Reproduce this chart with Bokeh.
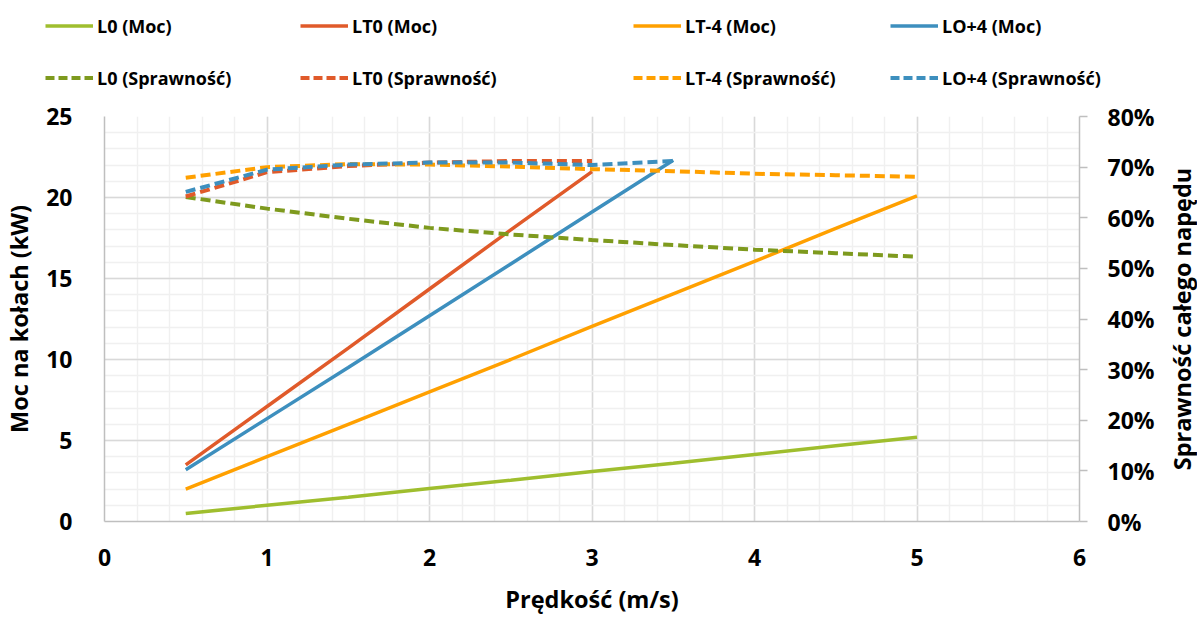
from bokeh.plotting import figure
from bokeh.layouts import row
from bokeh.models import (Range1d, LinearAxis, SingleIntervalTicker, FixedTicker,
                          NumeralTickFormatter, Legend, LegendItem)
from bokeh.embed import file_html
from bokeh.resources import INLINE

# ---------------- data ----------------
v_full = [0.5, 1.0, 1.5, 2.0, 2.5, 3.0, 3.5, 4.0, 4.5, 5.0]
v_lt0 = [0.5, 1.0, 1.5, 2.0, 2.5, 3.0]
v_lo4 = [0.5, 1.0, 1.5, 2.0, 2.5, 3.0, 3.5]

moc_l0 = [0.5, 1.0, 1.5, 2.03, 2.55, 3.08, 3.6, 4.13, 4.67, 5.2]
moc_lt0 = [3.5, 7.1, 10.7, 14.35, 18.0, 21.6]
moc_ltm4 = [2.0, 4.0, 6.0, 8.0, 10.0, 12.05, 14.05, 16.05, 18.1, 20.1]
moc_lo4 = [3.2, 6.35, 9.5, 12.7, 15.9, 19.1, 22.3]

spr_l0 = [0.641, 0.618, 0.598, 0.580, 0.567, 0.556, 0.546, 0.537, 0.530, 0.523]
spr_lt0 = [0.642, 0.690, 0.702, 0.709, 0.712, 0.712]
spr_ltm4 = [0.679, 0.700, 0.706, 0.705, 0.701, 0.696, 0.692, 0.687, 0.684, 0.681]
spr_lo4 = [0.651, 0.695, 0.705, 0.709, 0.709, 0.704, 0.712]

series_names = ["L0", "LT0", "LT-4", "LO+4"]
x_title = "Prędkość (m/s)"
y_title = "Moc na kołach (kW)"
y2_title = "Sprawność całego napędu"

FONT = "Open Sans"
GRID_MAJOR = "#d9d9d9"
GRID_MINOR = "#f0f0f0"
AXIS_COL = "#bfbfbf"

C_L0 = "#9fbe2e"
C_L0D = "#7e9a1e"
C_LT0 = "#e05a2a"
C_LTM4 = "#ffa000"
C_LO4 = "#3d8fbe"
LW = 3.5
DW = 4
DASH = "10 5"

TOTAL_W, TOTAL_H = 1197, 617
LEG_H = 100
RT_W = 35          # strip holding the right axis title
MAIN_W = TOTAL_W - RT_W
MAIN_H = TOTAL_H - LEG_H
B_TOP = 116 - LEG_H
B_BOTTOM = 94

p = figure(width=MAIN_W, height=MAIN_H, output_backend="svg", toolbar_location=None,
           title=None, x_range=Range1d(0, 6), y_range=Range1d(0, 25),
           min_border_left=103, min_border_right=MAIN_W - 1079, min_border_top=B_TOP,
           min_border_bottom=B_BOTTOM)
p.extra_y_ranges = {"eff": Range1d(0, 0.8)}
p.outline_line_color = None

def style_axis(ax, tick_out=0):
    ax.axis_line_color = AXIS_COL
    ax.axis_line_width = 1.5
    ax.major_tick_line_color = AXIS_COL if tick_out else None
    ax.major_tick_line_width = 1.5
    ax.major_tick_out = tick_out
    ax.major_tick_in = 0
    ax.minor_tick_line_color = None
    ax.major_label_text_font = FONT
    ax.major_label_text_font_style = "bold"
    ax.major_label_text_font_size = "23px"
    ax.major_label_text_color = "#000000"
    ax.axis_label_text_font = FONT
    ax.axis_label_text_font_style = "bold"
    ax.axis_label_text_font_size = "23.5px"
    ax.axis_label_text_color = "#000000"

xax = p.xaxis[0]
xax.ticker = SingleIntervalTicker(interval=1, num_minor_ticks=5)
xax.axis_label = x_title
style_axis(xax)
xax.major_label_standoff = 23
xax.axis_label_standoff = 14

yax = p.yaxis[0]
yax.ticker = SingleIntervalTicker(interval=5, num_minor_ticks=5)
yax.axis_label = y_title
style_axis(yax)
yax.major_label_standoff = 28
yax.axis_label_standoff = 8

rax = LinearAxis(y_range_name="eff", ticker=SingleIntervalTicker(interval=0.1),
                 formatter=NumeralTickFormatter(format="0%"))
style_axis(rax, tick_out=8)
rax.major_label_standoff = 20
p.add_layout(rax, "right")

p.xgrid.ticker = SingleIntervalTicker(interval=1, num_minor_ticks=5)
p.ygrid.ticker = SingleIntervalTicker(interval=5, num_minor_ticks=5)
for g in (p.xgrid[0], p.ygrid[0]):
    g.grid_line_color = GRID_MAJOR
    g.grid_line_width = 1.5
    g.minor_grid_line_color = GRID_MINOR
    g.minor_grid_line_width = 1.5

styles_solid = [C_L0, C_LT0, C_LTM4, C_LO4]
styles_dash = [C_L0D, C_LT0, C_LTM4, C_LO4]
xs = [v_full, v_lt0, v_full, v_lo4]
moc = [moc_l0, moc_lt0, moc_ltm4, moc_lo4]
spr = [spr_l0, spr_lt0, spr_ltm4, spr_lo4]

for xv, yv, c in zip(xs, moc, styles_solid):
    p.line(xv, yv, line_color=c, line_width=LW)
for xv, yv, c in zip(xs, spr, styles_dash):
    p.line(xv, yv, line_color=c, line_width=DW, line_dash=DASH, y_range_name="eff")

# ---------------- right axis title strip (reads bottom-to-top like a left axis) ----------------
rf = figure(width=RT_W, height=MAIN_H, output_backend="svg", toolbar_location=None,
            title=None, x_range=Range1d(0, 1), y_range=Range1d(0, 0.8), x_axis_type=None,
            y_axis_type=None, min_border_left=RT_W - 1, min_border_right=0,
            min_border_top=B_TOP, min_border_bottom=B_BOTTOM)
rf.outline_line_color = None
rf.grid.visible = False
tax = LinearAxis(ticker=FixedTicker(ticks=[]), axis_label=y2_title)
style_axis(tax)
tax.axis_line_color = None
tax.major_label_standoff = 0
tax.axis_label_standoff = 0
rf.add_layout(tax, "left")

# ---------------- legend strip ----------------
lf = figure(width=TOTAL_W, height=LEG_H, output_backend="svg", toolbar_location=None,
            title=None, x_range=Range1d(0, 1), y_range=Range1d(0, 1), x_axis_type=None,
            y_axis_type=None, min_border=0, min_border_left=0, min_border_right=0,
            min_border_top=0, min_border_bottom=0)
lf.outline_line_color = None
lf.grid.visible = False

col_x = [45, 300, 633, 890]
for name, cs, cd, xloc in zip(series_names, styles_solid, styles_dash, col_x):
    rs = lf.line([-5, -4], [-5, -5], line_color=cs, line_width=LW)
    rd = lf.line([-5, -4], [-5, -5], line_color=cd, line_width=DW, line_dash="9 4")
    leg = Legend(items=[LegendItem(label=f"{name} (Moc)", renderers=[rs]),
                        LegendItem(label=f"{name} (Sprawność)", renderers=[rd])],
                 location=(xloc, LEG_H - 90), orientation="vertical",
                 glyph_width=48, glyph_height=25, label_height=25, label_standoff=4,
                 spacing=27, padding=0, margin=0,
                 border_line_color=None, background_fill_alpha=0,
                 label_text_font=FONT, label_text_font_style="bold",
                 label_text_font_size="18px", label_text_color="#000000")
    lf.add_layout(leg, "center")

main = row(p, rf, spacing=0)
open("out.html", "w").write(file_html([lf, main], INLINE))
